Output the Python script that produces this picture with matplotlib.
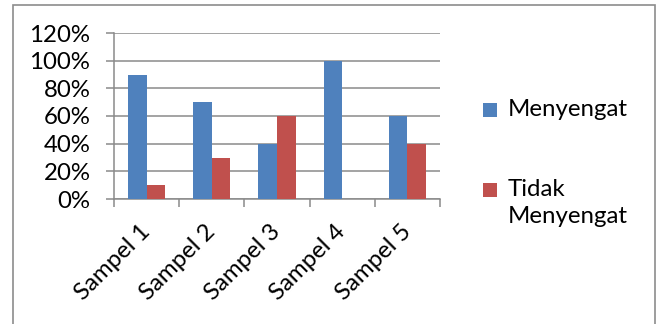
import matplotlib
matplotlib.use("Agg")
import matplotlib.pyplot as plt
from matplotlib.patches import Rectangle
import numpy as np

categories = ["Sampel 1", "Sampel 2", "Sampel 3", "Sampel 4", "Sampel 5"]
menyengat = [90, 70, 40, 100, 60]
tidak_menyengat = [10, 30, 60, 0, 40]
series_names = ["Menyengat", "Tidak\nMenyengat"]
y_ticks = [0, 20, 40, 60, 80, 100, 120]

plt.rcParams['font.family'] = ['Lato', 'DejaVu Sans']

W, H = 661, 324
fig = plt.figure(figsize=(W/100, H/100), dpi=100)

# outer chart border
fig.patches.append(Rectangle((13/W, -0.05), (655-13)/W, (H-5)/H + 0.05,
                             transform=fig.transFigure, fill=False,
                             edgecolor='#8c8c8c', linewidth=1.2))

ax = fig.add_axes([114/W, (H-199)/H, (440-114)/W, (199-33)/H])
x = np.arange(len(categories))
w = 0.285
blue = '#4F81BD'
red = '#C0504D'
colors = [blue, red]
ax.bar(x - w/2, menyengat, w, color=blue, zorder=3)
ax.bar(x + w/2, tidak_menyengat, w, color=red, zorder=3)

FS = 17.3
ax.set_xlim(-0.5, len(categories) - 0.5)
ax.set_ylim(0, 120)
ax.set_yticks(y_ticks)
ax.set_yticklabels([f"{v}%" for v in y_ticks], fontsize=FS)
ax.yaxis.grid(True, color='#8a8a8a', linewidth=1.1, zorder=0)
ax.set_axisbelow(True)

ax.set_xticks(x)
ax.set_xticklabels(categories, rotation=45, ha='right', va='center',
                   rotation_mode='anchor', fontsize=FS)
ax.tick_params(axis='x', which='major', length=0, pad=21)
ax.set_xticks(np.arange(-0.5, len(categories)), minor=True)
ax.tick_params(axis='x', which='minor', length=6, color='#8a8a8a', width=1.1)
ax.tick_params(axis='y', length=6, color='#8a8a8a', width=1.1, pad=11)

for s in ['top', 'right']:
    ax.spines[s].set_visible(False)
for s in ['left', 'bottom']:
    ax.spines[s].set_color('#8a8a8a')
    ax.spines[s].set_linewidth(1.1)

# legend drawn manually (Excel-style: marker aligned with first line)
leg_y = [110, 190]
for name, c, yc in zip(series_names, colors, leg_y):
    fig.patches.append(Rectangle((483/W, (H - yc - 7)/H), 14/W, 14/H,
                                 transform=fig.transFigure, facecolor=c, edgecolor='none'))
    fig.text(508/W, (H - yc + 11)/H, name, fontsize=FS, ha='left', va='top',
             linespacing=1.35)

fig.savefig("out.png", dpi=100)
